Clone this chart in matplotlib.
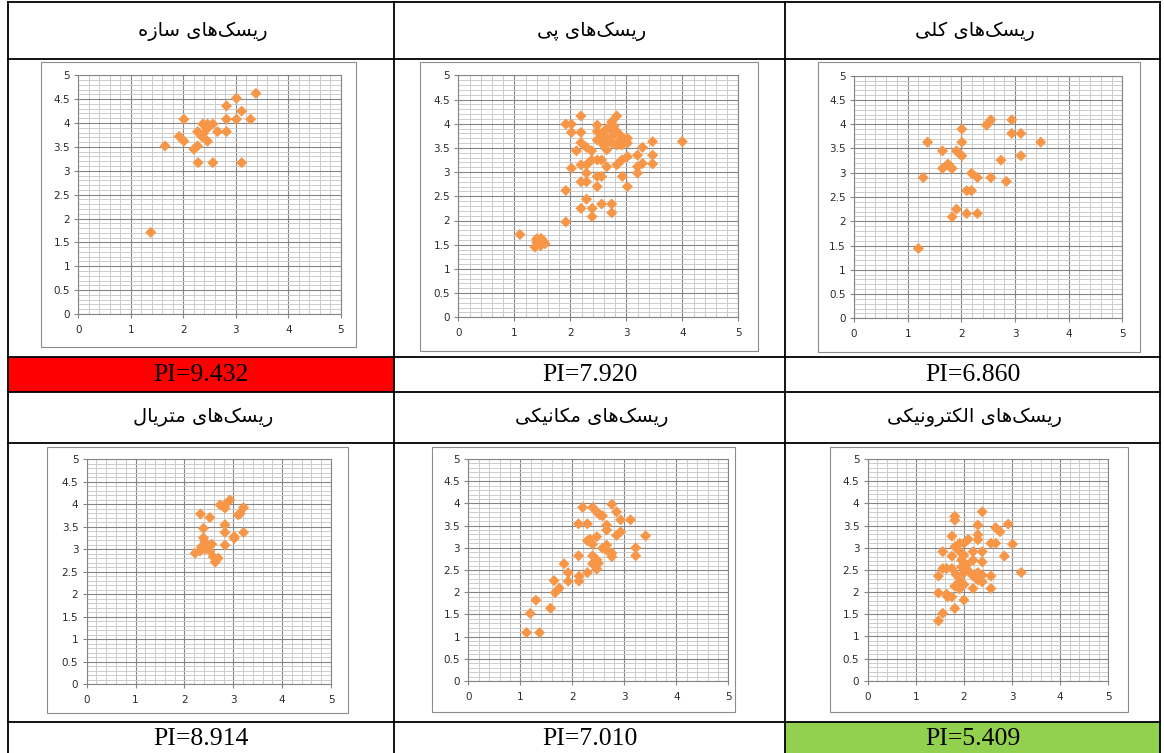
"""
Six risk scatter panels laid out in a 3x2 table, each with its PI value
underneath. Highest PI cell is red, lowest is green.
"""

import matplotlib
matplotlib.use("Agg")
import matplotlib.pyplot as plt
from matplotlib.lines import Line2D
from matplotlib.patches import Rectangle
from matplotlib.ticker import MultipleLocator


W, H = 1164, 753

# panel titles in logical (typed) order, they get shaped before drawing
TITLES = [
    "ریسک\u200cهای سازه",
    "ریسک\u200cهای پی",
    "ریسک\u200cهای کلی",
    "ریسک\u200cهای متریال",
    "ریسک\u200cهای مکانیکی",
    "ریسک\u200cهای الکترونیکی",
]
PI_VALUES = [9.432, 7.920, 6.860, 8.914, 7.010, 5.409]

# structure risks
STRUCT_X = [3.38, 3.01, 2.82, 3.11, 2.01, 2.82, 3.01, 3.28, 2.37, 2.46, 2.56,
            2.46, 2.27, 2.65, 2.82, 1.92, 2.35, 2.01, 2.46, 1.65, 2.27, 2.20,
            2.28, 2.56, 3.11, 1.38, 2.38]
STRUCT_Y = [4.62, 4.52, 4.36, 4.25, 4.08, 4.08, 4.08, 4.08, 3.98, 3.98, 3.98,
            3.89, 3.82, 3.82, 3.82, 3.72, 3.72, 3.62, 3.62, 3.52, 3.52, 3.45,
            3.17, 3.17, 3.17, 1.71, 3.78]

# foundation risks
FOUND_X = [4.00, 1.10, 1.92, 1.92, 1.37, 1.40, 1.43, 1.45, 1.48, 1.52, 1.55,
           1.40, 1.47, 2.19, 2.29, 2.39, 2.39, 2.56, 2.74, 2.74, 2.48, 2.29,
           2.19, 2.48, 2.56, 2.93, 3.02, 2.02, 2.29, 2.19, 2.29, 2.38, 2.48,
           2.56, 2.65, 2.83, 2.92, 3.02, 3.20, 3.20, 3.29, 3.20, 3.29, 3.47,
           3.47, 3.47, 1.92, 2.02, 2.02, 2.19, 2.19, 2.11, 2.19, 2.29, 2.38,
           2.48, 2.48, 2.48, 2.56, 2.56, 2.65, 2.65, 2.65, 2.74, 2.83, 2.74,
           2.83, 2.83, 2.92, 2.92, 3.02, 3.02, 2.74, 2.60, 2.70, 2.78, 2.88,
           2.52, 2.60]
FOUND_Y = [3.63, 1.71, 1.97, 2.62, 1.45, 1.55, 1.60, 1.52, 1.63, 1.57, 1.52,
           1.62, 1.48, 2.25, 2.44, 2.25, 2.08, 2.34, 2.34, 2.16, 2.70, 2.80,
           2.80, 2.91, 2.91, 2.91, 2.70, 3.08, 2.98, 3.15, 3.15, 3.25, 3.25,
           3.25, 3.11, 3.15, 3.25, 3.32, 2.98, 3.11, 3.18, 3.35, 3.51, 3.63,
           3.35, 3.17, 3.99, 3.99, 3.82, 4.16, 3.82, 3.44, 3.61, 3.51, 3.44,
           3.97, 3.84, 3.66, 3.80, 3.63, 3.90, 3.70, 3.46, 4.04, 4.16, 3.73,
           3.84, 3.56, 3.73, 3.56, 3.70, 3.60, 3.60, 3.75, 3.90, 3.95, 3.65,
           3.70, 3.55]

# general risks
GENERAL_X = [1.20, 1.29, 1.37, 1.65, 1.65, 1.75, 1.83, 1.91, 2.01, 2.01, 2.01,
             1.83, 1.91, 2.10, 2.30, 2.10, 2.19, 2.19, 2.30, 2.55, 2.47, 2.55,
             2.74, 2.84, 2.94, 2.94, 3.11, 3.11, 3.48, 1.79, 2.50, 1.96]
GENERAL_Y = [1.44, 2.90, 3.63, 3.45, 3.09, 3.18, 3.09, 3.45, 3.90, 3.63, 3.35,
             2.09, 2.25, 2.16, 2.16, 2.63, 2.63, 2.99, 2.90, 2.90, 3.98, 4.09,
             3.26, 2.82, 4.09, 3.81, 3.81, 3.35, 3.63, 3.12, 4.02, 3.40]

# material risks
MATERIAL_X = [2.93, 2.83, 2.73, 2.83, 3.21, 3.14, 3.10, 2.33, 2.52, 2.83, 2.39,
              2.83, 3.21, 3.02, 3.02, 2.39, 2.83, 2.56, 2.35, 2.42, 2.52, 2.22,
              2.32, 2.59, 2.69, 2.63, 2.49, 2.42]
MATERIAL_Y = [4.09, 3.98, 3.98, 3.91, 3.92, 3.79, 3.76, 3.78, 3.70, 3.54, 3.46,
              3.37, 3.37, 3.28, 3.24, 3.25, 3.09, 3.11, 3.05, 3.00, 2.96, 2.91,
              2.96, 2.83, 2.80, 2.71, 3.05, 3.16]

# mechanical risks
MECH_X = [1.12, 1.37, 1.19, 1.30, 1.58, 1.65, 1.67, 1.75, 1.84, 1.92, 1.92,
          2.13, 2.13, 2.12, 2.29, 2.12, 2.29, 2.20, 2.29, 2.39, 2.39, 2.47,
          2.53, 2.58, 2.47, 2.39, 2.47, 2.39, 2.47, 2.50, 2.66, 2.66, 2.66,
          2.58, 2.76, 2.85, 2.93, 2.76, 2.76, 2.85, 2.93, 3.12, 3.22, 3.22,
          3.41, 2.66, 2.34]
MECH_Y = [1.09, 1.09, 1.52, 1.82, 1.64, 2.26, 1.99, 2.09, 2.64, 2.44, 2.25,
          2.25, 2.36, 2.82, 2.44, 3.54, 3.54, 3.91, 3.16, 3.08, 3.91, 3.81,
          3.74, 3.72, 3.25, 2.82, 2.73, 2.64, 2.52, 2.65, 3.51, 3.40, 3.06,
          2.99, 3.98, 3.81, 3.63, 2.88, 2.80, 3.28, 3.36, 3.63, 3.00, 2.82,
          3.27, 2.95, 3.19]

# electronic risks
ELEC_X = [1.47, 1.56, 1.81, 2.00, 1.47, 1.64, 1.66, 1.75, 1.47, 1.56, 1.64,
          1.75, 1.56, 1.75, 1.81, 1.81, 1.75, 1.81, 1.91, 1.91, 2.00, 2.09,
          1.95, 2.00, 1.95, 2.06, 1.84, 1.81, 1.91, 2.00, 2.19, 2.09, 2.19,
          2.19, 2.19, 2.29, 2.29, 2.29, 2.38, 2.38, 2.38, 2.29, 2.38, 2.29,
          2.38, 2.56, 2.56, 2.56, 2.66, 2.66, 2.75, 2.84, 2.92, 3.01, 3.19,
          1.92, 1.99, 2.30]
ELEC_Y = [1.35, 1.52, 1.63, 1.82, 1.98, 1.95, 1.89, 1.89, 2.36, 2.53, 2.53,
          2.53, 2.91, 3.26, 3.71, 3.62, 2.81, 3.02, 3.10, 2.91, 3.10, 3.19,
          2.72, 2.83, 2.57, 2.61, 2.39, 2.13, 2.07, 2.17, 2.08, 2.48, 2.91,
          2.72, 2.36, 3.51, 3.29, 3.18, 3.81, 2.91, 2.68, 2.44, 2.38, 2.27,
          2.23, 2.36, 2.08, 3.10, 3.10, 3.45, 3.36, 2.81, 3.53, 3.08, 2.44,
          2.24, 2.42, 2.34]

SERIES = [
    (STRUCT_X, STRUCT_Y),
    (FOUND_X, FOUND_Y),
    (GENERAL_X, GENERAL_Y),
    (MATERIAL_X, MATERIAL_Y),
    (MECH_X, MECH_Y),
    (ELEC_X, ELEC_Y),
]

# table layout in pixels
COL_X = [8, 394, 785, 1160]
ROW_LINES = [2, 59, 357, 392, 443, 722]
HEADER_Y = [31, 417]
PI_Y = [375, 739]

# chart frame (left, top, right, bottom) and plot area (x0, x5, y5, y0), px
FRAMES = [
    (41, 62, 356, 347), (420, 62, 758, 351), (818, 62, 1140, 352),
    (47, 447, 348, 713), (432, 447, 735, 712), (830, 447, 1128, 712),
]
PLOT_AREAS = [
    (78.3, 341.0, 75.3, 314.0), (458.3, 738.3, 75.3, 317.3),
    (854.0, 1122.3, 75.7, 318.3), (86.7, 331.0, 459.0, 684.3),
    (468.3, 728.3, 459.0, 681.0), (867.7, 1108.3, 459.0, 680.7),
]

ORANGE = "#F79646"
RED = "#FF0000"
GREEN = "#92D050"

# persian letters -> (isolated, final, initial, medial); right-joining have two
FORMS = {
    "ا": "\uFE8D\uFE8E",
    "ر": "\uFEAD\uFEAE",
    "ز": "\uFEAF\uFEB0",
    "و": "\uFEED\uFEEE",
    "پ": "\uFB56\uFB57\uFB58\uFB59",
    "ت": "\uFE95\uFE96\uFE97\uFE98",
    "س": "\uFEB1\uFEB2\uFEB3\uFEB4",
    "ک": "\uFB8E\uFB8F\uFB90\uFB91",
    "ل": "\uFEDD\uFEDE\uFEDF\uFEE0",
    "م": "\uFEE1\uFEE2\uFEE3\uFEE4",
    "ن": "\uFEE5\uFEE6\uFEE7\uFEE8",
    "ه": "\uFEE9\uFEEA\uFEEB\uFEEC",
    "ی": "\uFBFC\uFBFD\uFBFE\uFBFF",
}


def shape_fa(text):
    """
    picks the joined glyph form for each letter and reverses for display,
    matplotlib does no arabic shaping by itself
    """
    out = []
    for i, ch in enumerate(text):
        forms = FORMS.get(ch)
        if forms is None:
            if ch != "\u200c":
                out.append(ch)
            continue
        prev = text[i - 1] if i > 0 else ""
        nxt = text[i + 1] if i + 1 < len(text) else ""
        joins_prev = prev in FORMS and len(FORMS[prev]) == 4
        joins_next = len(forms) == 4 and nxt in FORMS
        if joins_prev and joins_next:
            out.append(forms[3])
        elif joins_prev:
            out.append(forms[1])
        elif joins_next:
            out.append(forms[2])
        else:
            out.append(forms[0])
    return "".join(reversed(out))


def fx(x):
    return x / W


def fy(y):
    return 1 - y / H


def draw_table(fig):
    """
    cell fills, grid lines and the header / PI texts
    """
    hi, lo = max(PI_VALUES), min(PI_VALUES)
    pi_rows = [(ROW_LINES[2], ROW_LINES[3]), (ROW_LINES[5], H + 5)]
    for k, val in enumerate(PI_VALUES):
        r, c = divmod(k, 3)
        fill = RED if val == hi else GREEN if val == lo else None
        if fill:
            top, bot = pi_rows[r]
            fig.add_artist(Rectangle((fx(COL_X[c]), fy(bot)),
                                     fx(COL_X[c + 1] - COL_X[c]),
                                     (bot - top) / H,
                                     facecolor=fill, edgecolor="none",
                                     transform=fig.transFigure, zorder=0))
        cx = (COL_X[c] + COL_X[c + 1]) / 2
        fig.text(fx(cx + 2), fy(HEADER_Y[r]), shape_fa(TITLES[k]),
                 ha="center", va="center", fontsize=14,
                 family="DejaVu Sans", color="black")
        fig.text(fx(cx), fy(PI_Y[r]), f"PI={val:.3f}", ha="center",
                 va="center", fontsize=18.5, family="Liberation Serif",
                 color="black")

    for y in ROW_LINES:
        fig.add_artist(Line2D([fx(COL_X[0]), fx(COL_X[-1])], [fy(y), fy(y)],
                              color="black", lw=1.3,
                              transform=fig.transFigure, zorder=5))
    for x in COL_X:
        fig.add_artist(Line2D([fx(x), fx(x)], [fy(ROW_LINES[0]), fy(H + 5)],
                              color="black", lw=1.3,
                              transform=fig.transFigure, zorder=5))


def draw_panel(fig, k):
    """
    excel style scatter: gray frame, dense grid, orange diamonds
    """
    left, top, right, bottom = FRAMES[k]
    fig.add_artist(Rectangle((fx(left), fy(bottom)), fx(right - left),
                             (bottom - top) / H, facecolor="white",
                             edgecolor="#8C8C8C", lw=0.8,
                             transform=fig.transFigure, zorder=1))
    x0, x5, y5, y0 = PLOT_AREAS[k]
    ax = fig.add_axes([fx(x0), fy(y0), fx(x5 - x0), (y0 - y5) / H])
    ax.set_zorder(2)
    ax.set_xlim(0, 5)
    ax.set_ylim(0, 5)
    ax.xaxis.set_major_locator(MultipleLocator(1))
    ax.xaxis.set_minor_locator(MultipleLocator(0.2))
    ax.yaxis.set_major_locator(MultipleLocator(0.5))
    ax.yaxis.set_minor_locator(MultipleLocator(0.1))
    ax.yaxis.set_major_formatter(lambda v, _: f"{v:g}")
    ax.grid(which="minor", color="#CBCBCB", lw=0.7)
    ax.grid(which="major", color="#858585", lw=0.8)
    ax.set_axisbelow(True)
    ax.tick_params(which="major", length=3, width=0.8, color="#858585",
                   labelsize=7.5, labelcolor="#2B2B2B", pad=3)
    ax.tick_params(axis="x", which="major", pad=5)
    ax.tick_params(which="minor", length=0)
    for sp in ax.spines.values():
        sp.set_color("#858585")
        sp.set_linewidth(0.8)

    xs, ys = SERIES[k]
    ax.scatter(xs, ys, marker="D", s=32, color=ORANGE, edgecolors="none",
               zorder=3, clip_on=False)


fig = plt.figure(figsize=(W / 100, H / 100), dpi=100)
draw_table(fig)
for k in range(len(SERIES)):
    draw_panel(fig, k)

fig.savefig("out.png", dpi=100)
